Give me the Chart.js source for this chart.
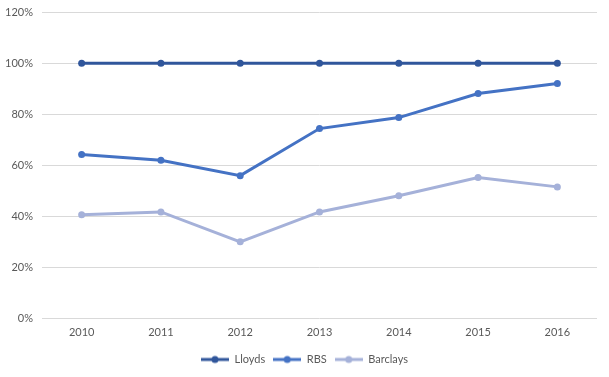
<!DOCTYPE html>
<html>
<head>
<meta charset="utf-8">
<script src="https://cdn.jsdelivr.net/npm/chart.js@4"></script>
<style>
  html, body { margin: 0; padding: 0; background: #fff; }
  #wrap { width: 609px; height: 377px; }
</style>
</head>
<body>
<div id="wrap"><canvas id="chart" width="609" height="377"></canvas></div>
<script>
const years = ['2010', '2011', '2012', '2013', '2014', '2015', '2016'];
const lloyds = [100, 100, 100, 100, 100, 100, 100];
const rbs = [64.3, 62.0, 56.0, 74.4, 78.7, 88.1, 92.0];
const barclays = [40.7, 41.8, 30.1, 41.8, 48.1, 55.3, 51.6];

const colors = { lloyds: '#30569B', rbs: '#4472C4', barclays: '#A5B1D9' };

// legend marker: short line with a dot in the middle
function legendIcon(color) {
    const c = document.createElement('canvas');
    c.width = 28; c.height = 10;
    const ctx = c.getContext('2d');
    ctx.strokeStyle = color;
    ctx.lineWidth = 3;
    ctx.beginPath();
    ctx.moveTo(0, 5);
    ctx.lineTo(28, 5);
    ctx.stroke();
    ctx.fillStyle = color;
    ctx.beginPath();
    ctx.arc(14, 5, 3.5, 0, Math.PI * 2);
    ctx.fill();
    return c;
}

function series(label, data, color) {
    return {
        label,
        data,
        borderColor: color,
        backgroundColor: color,
        borderWidth: 3,
        pointRadius: 3.5,
        pointHoverRadius: 3.5,
        pointBorderWidth: 0,
        pointStyle: 'circle',
        tension: 0
    };
}

const font = { family: 'Lato, "Open Sans", sans-serif', size: 11 };

// center the legend on the whole canvas, not just the padded area
const legendShift = {
    id: 'legendShift',
    afterLayout(chart) {
        if (chart.legend) {
            chart.legend.left = 0;
            chart.legend.right = chart.width;
        }
    }
};

new Chart(document.getElementById('chart'), {
    type: 'line',
    data: {
        labels: years,
        datasets: [
            series('Lloyds', lloyds, colors.lloyds),
            series('RBS', rbs, colors.rbs),
            series('Barclays', barclays, colors.barclays)
        ]
    },
    plugins: [legendShift],
    options: {
        responsive: false,
        animation: false,
        layout: { padding: { left: 0, right: 12, top: 0, bottom: 2 } },
        plugins: {
            tooltip: { enabled: false },
            legend: {
                position: 'bottom',
                labels: {
                    usePointStyle: true,
                    pointStyleWidth: 28,
                    color: '#595959',
                    font,
                    padding: 8,
                    generateLabels(chart) {
                        return chart.data.datasets.map((ds, i) => ({
                            text: ds.label,
                            pointStyle: legendIcon(ds.borderColor),
                            fontColor: '#595959',
                            lineWidth: 0,
                            strokeStyle: 'transparent',
                            fillStyle: 'transparent',
                            datasetIndex: i
                        }));
                    }
                }
            }
        },
        scales: {
            x: {
                offset: true,
                grid: { display: false, drawTicks: false },
                border: { display: false },
                ticks: { color: '#595959', font, padding: 7 }
            },
            y: {
                min: 0,
                max: 120,
                grid: { color: '#D9D9D9', drawTicks: false, lineWidth: 1 },
                border: { display: false },
                ticks: {
                    stepSize: 20,
                    color: '#595959',
                    font,
                    padding: 9,
                    callback: v => v + '%'
                },
                afterFit(scale) {
                    scale.width = 42;
                    scale.paddingTop = 12;
                }
            }
        }
    }
});
</script>
</body>
</html>
